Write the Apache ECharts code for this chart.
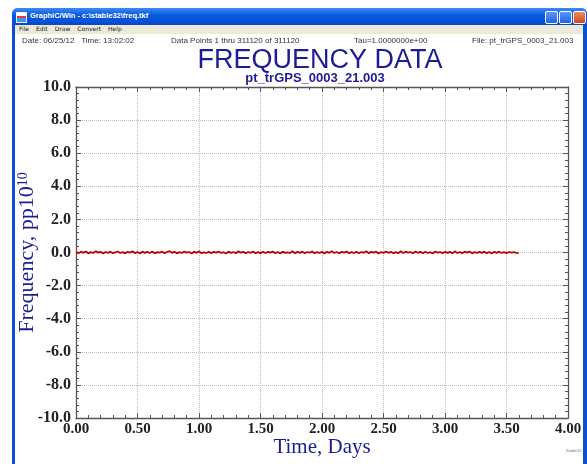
<!DOCTYPE html>
<html>
<head>
<meta charset="utf-8">
<script src="https://cdn.jsdelivr.net/npm/echarts@6/dist/echarts.min.js"></script>
<style>
  html, body { margin: 0; padding: 0; background: #fff; }
  #page { position: relative; width: 587px; height: 464px; overflow: hidden; background: #fff; }
  /* ── XP style window chrome ── */
  .win { position: absolute; left: 12px; top: 8px; width: 575px; height: 460px;
         background: #0b4fd6; border-radius: 6px 6px 0 0; }
  .titlebar { position: absolute; left: 0; top: 0; right: 0; height: 17px;
              background: linear-gradient(#3d8bf5, #0a5be0 40%, #0550d8 80%, #0a48c0);
              border-radius: 6px 6px 0 0; }
  .titlebar .icon { position: absolute; left: 4px; top: 4px; width: 9px; height: 9px;
                    background: linear-gradient(#fff 30%, #e33 30%, #e33 60%, #39f 60%); border: 1px solid #eee; }
  .titlebar .cap { position: absolute; left: 18px; top: 3px; color: #fff;
                   font: bold 7.5px "Liberation Sans", sans-serif; }
  .btn { position: absolute; top: 3px; width: 11px; height: 11px; border: 1px solid #fff;
         border-radius: 2px; background: linear-gradient(#5a96ff, #2364e0); }
  .btn.close { background: linear-gradient(#f08a64, #d4441c); }
  .menubar { position: absolute; left: 3px; right: 4px; top: 17px; height: 9px; background: #ece9d8;
             font: 6px "DejaVu Sans", sans-serif; color: #222; }
  .menubar span { margin-left: 4px; margin-right: 3px; }
  .client { position: absolute; left: 3px; right: 4px; top: 26px; bottom: 0; background: #fff; }
  #chart { position: absolute; left: 0; top: 0; width: 587px; height: 464px; }
</style>
</head>
<body>
<div id="page">
  <div class="win">
    <div class="titlebar">
      <div class="icon"></div>
      <div class="cap">GraphiC/Win - c:\stable32\freq.tkf</div>
      <div class="btn" style="left:533px"></div>
      <div class="btn" style="left:547px"></div>
      <div class="btn close" style="left:561px"></div>
    </div>
    <div class="menubar"><span>File</span><span>Edit</span><span>Draw</span><span>Convert</span><span>Help</span></div>
    <div class="client"></div>
  </div>
  <div id="chart"></div>
</div>
<script>
/* ── Data (fractional frequency, pp10^10, vs days) ── */
const timeStep = 0.02;   // days between plotted samples
const freqValues = [
  0.03, -0.04, 0.05, -0.02, 0.06, -0.05, 0.02, -0.03, 0.07, -0.01,
  0.04, -0.06, 0.03, -0.02, 0.05, -0.04, 0.01, 0.06, -0.03, 0.02,
  -0.05, 0.04, -0.01, 0.07, -0.04, 0.03, -0.06, 0.05, -0.02, 0.04,
  -0.03, 0.06, -0.05, 0.02, -0.01, 0.05, -0.04, 0.03, 0.08, -0.02,
  0.04, -0.05, 0.02, -0.03, 0.06, -0.01, 0.03, -0.06, 0.05, -0.02,
  0.07, -0.04, 0.01, -0.03, 0.05, -0.05, 0.04, -0.01, 0.06, -0.03,
  0.02, -0.06, 0.05, -0.02, 0.03, -0.04, 0.07, -0.01, 0.04, -0.05,
  0.03, -0.02, 0.06, -0.04, 0.02, -0.05, 0.05, -0.03, 0.04, -0.01,
  0.06, -0.04, 0.03, -0.06, 0.05, -0.02, 0.01, -0.03, 0.07, -0.04,
  0.04, -0.02, 0.05, -0.05, 0.03, -0.01, 0.06, -0.04, 0.02, -0.03,
  0.05, -0.06, 0.04, -0.02, 0.08, -0.03, 0.03, -0.05, 0.04, -0.01,
  0.06, -0.04, 0.02, -0.03, 0.05, -0.05, 0.03, -0.02, 0.07, -0.04,
  0.04, -0.01, 0.05, -0.06, 0.03, -0.03, 0.06, -0.02, 0.04, -0.05,
  0.02, -0.04, 0.07, -0.03, 0.05, -0.01, 0.03, -0.05, 0.06, -0.02,
  0.04, -0.04, 0.05, -0.03, 0.02, -0.06, 0.06, -0.01, 0.03, -0.04,
  0.05, -0.02, 0.04, -0.05, 0.07, -0.03, 0.03, -0.04, 0.05, -0.01,
  0.06, -0.05, 0.02, -0.03, 0.04, -0.02, 0.05, -0.04, 0.03, -0.06,
  0.04, -0.02, 0.05, -0.03, 0.02, -0.04, 0.03, -0.01, 0.02, -0.02,
  -0.04
];
const xTicks = { min: 0, max: 4, interval: 0.5 };
const yTicks = { min: -10, max: 10, interval: 2 };

const headerDate = 'Date: 06/25/12   Time: 13:02:02';
const headerPoints = 'Data Points 1 thru 311120 of 311120';
const headerTau = 'Tau=1.0000000e+00';
const headerFile = 'File: pt_trGPS_0003_21.003';
const mainTitle = 'FREQUENCY DATA';
const subTitle = 'pt_trGPS_0003_21.003';

const seriesData = freqValues.map((v, i) => [+(i * timeStep).toFixed(3), v]);

const serif = '"Liberation Serif", "DejaVu Serif", serif';
const sans = '"Liberation Sans", Arial, sans-serif';
const axisCol = '#555';
const navy = '#1c1c96';

const chart = echarts.init(document.getElementById('chart'), null, { renderer: 'canvas' });

const tickBits = {
  axisLine: { show: true, onZero: false, lineStyle: { color: axisCol, width: 1.3 } },
  axisTick: { show: true, inside: true, length: 5, lineStyle: { color: axisCol } },
  minorTick: { show: true, splitNumber: 5, length: 3, lineStyle: { color: axisCol } }
};

chart.setOption({
  backgroundColor: 'transparent',
  animation: false,
  grid: { left: 76, right: 19, top: 87, bottom: 46, outerBoundsMode: 'none' },
  graphic: [
    { type: 'text', left: 22, top: 37, style: { text: headerDate, font: '8px ' + sans, fill: '#333' } },
    { type: 'text', left: 171, top: 37, style: { text: headerPoints, font: '8px ' + sans, fill: '#333' } },
    { type: 'text', left: 354, top: 37, style: { text: headerTau, font: '8px ' + sans, fill: '#333' } },
    { type: 'text', left: 472, top: 37, style: { text: headerFile, font: '8px ' + sans, fill: '#333' } },
    { type: 'text', left: 566, top: 449, style: { text: 'Stable32', font: '4px ' + sans, fill: '#777' } }
  ],
  title: [
    { text: mainTitle, left: 315, textAlign: 'center', top: 42,
      textStyle: { fontFamily: sans, fontSize: 27, fontWeight: 'normal', color: navy } },
    { text: subTitle, left: 310, textAlign: 'center', top: 67,
      textStyle: { fontFamily: sans, fontSize: 13, fontWeight: 'bold', color: navy } }
  ],
  xAxis: [
    {
      type: 'value', position: 'bottom',
      min: xTicks.min, max: xTicks.max, interval: xTicks.interval,
      name: 'Time, Days', nameLocation: 'middle', nameGap: 19, nameMoveOverlap: false,
      nameTextStyle: { fontFamily: serif, fontSize: 21, color: navy },
      axisLabel: { margin: 4, fontFamily: serif, fontSize: 15, fontWeight: 'bold', color: '#222',
                   formatter: v => v.toFixed(2) },
      splitLine: { show: true, lineStyle: { color: '#bbb', type: 'dotted' } },
      ...tickBits
    },
    {
      type: 'value', position: 'top',
      min: xTicks.min, max: xTicks.max, interval: xTicks.interval,
      axisLabel: { show: false }, splitLine: { show: false },
      ...tickBits
    }
  ],
  yAxis: [
    {
      type: 'value', position: 'left',
      min: yTicks.min, max: yTicks.max, interval: yTicks.interval,
      name: '{a|Frequency, pp10}{b|10}', nameLocation: 'middle', nameGap: 38, nameRotate: 90,
      nameMoveOverlap: false,
      nameTextStyle: {
        color: navy,
        rich: {
          a: { fontFamily: serif, fontSize: 22, color: navy, verticalAlign: 'bottom', lineHeight: 22 },
          b: { fontFamily: serif, fontSize: 14, color: navy, verticalAlign: 'top', lineHeight: 22 }
        }
      },
      axisLabel: { margin: 5, fontFamily: serif, fontSize: 16, fontWeight: 'bold', color: '#222',
                   formatter: v => v.toFixed(1) },
      splitLine: { show: true, lineStyle: { color: '#bbb', type: 'dotted' } },
      ...tickBits
    },
    {
      type: 'value', position: 'right',
      min: yTicks.min, max: yTicks.max, interval: yTicks.interval,
      axisLabel: { show: false }, splitLine: { show: false },
      ...tickBits
    }
  ],
  series: [{
    type: 'line',
    data: seriesData,
    xAxisIndex: 0, yAxisIndex: 0,
    showSymbol: false,
    lineStyle: { color: '#c00000', width: 1.8 }
  }]
});
</script>
</body>
</html>
